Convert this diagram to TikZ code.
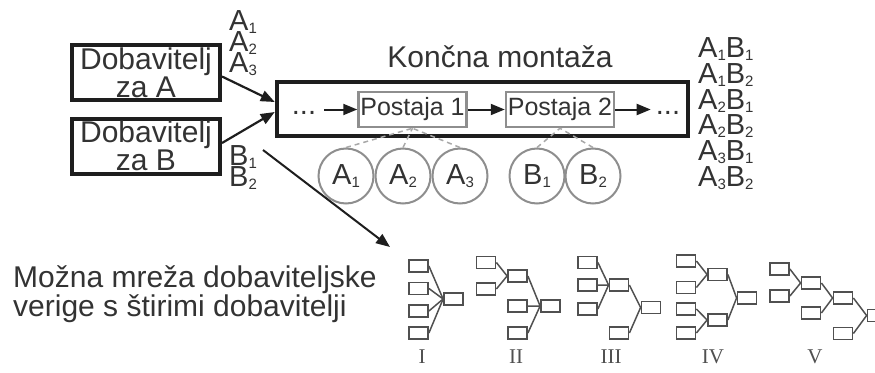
\documentclass[tikz,border=0pt]{standalone}
\usepackage{fontspec}
\setmainfont{Liberation Sans}
\newfontfamily\romfont{Liberation Serif}
\usetikzlibrary{arrows.meta}
\definecolor{ink}{HTML}{333333}
\definecolor{frame}{HTML}{1E1E1E}
\definecolor{pale}{HTML}{8E8E8E}
\definecolor{linkgray}{HTML}{A8A8A8}
\definecolor{treeg}{HTML}{505050}
\newcommand{\ix}[2]{#1\raisebox{-3pt}{\fontsize{15}{15}\selectfont#2}}
\begin{document}
\begin{tikzpicture}[x=1pt,y=-1pt,
    >={Triangle[length=14pt,width=11pt]},
    every node/.style={text=ink,inner sep=0pt},
    supplier/.style={draw=frame,line width=4pt,minimum width=148pt,minimum height=55pt,
      align=center,font=\fontsize{30}{23}\selectfont},
    tag/.style={font=\fontsize{29}{29}\selectfont},
    station/.style={draw=pale,line width=2.5pt,minimum width=108pt,minimum height=35pt,
      font=\fontsize{25}{25}\selectfont},
    part/.style={circle,draw=pale,line width=2pt,minimum size=55pt,font=\fontsize{29}{29}\selectfont},
    link/.style={linkgray,line width=1.5pt,dash pattern=on 5pt off 4pt},
    tbox/.style={draw=treeg,line width=1.8pt,minimum width=19pt,minimum height=12pt},
    tline/.style={treeg,line width=1.5pt},
    roman/.style={font=\romfont\fontsize{21}{21}\selectfont,text=treeg}]
  \useasboundingbox (0,0) rectangle (875,372);

  \node[supplier] (supA) at (146,72.5) {Dobavitelj\\za A};
  \node[supplier] (supB) at (146,146) {Dobavitelj\\za B};
  \node[tag,anchor=west] (a1) at (229,22) {\ix{A}{1}};
  \node[tag,anchor=west] (a2) at (229,43) {\ix{A}{2}};
  \node[tag,anchor=west] (a3) at (229,64) {\ix{A}{3}};
  \node[tag,anchor=west] (b1) at (229,157) {\ix{B}{1}};
  \node[tag,anchor=west] (b2) at (229,178) {\ix{B}{2}};

  \node[draw=frame,line width=4.5pt,minimum width=411pt,minimum height=54pt] (montaza) at (482.5,109) {};
  \node[font=\fontsize{30}{30}\selectfont] (naslov) at (500,57) {Končna montaža};
  \node[station] (post1) at (412.5,109.5) {Postaja 1};
  \node[station] (post2) at (560,109.5) {Postaja 2};
  \node[tag,anchor=base] (dl) at (304,114) {...};
  \node[tag,anchor=base] (dr) at (668,114) {...};
  \draw[->,line width=2pt,frame,shorten <=8pt] (dl.east |- post1.west) -- (post1.west);
  \draw[->,line width=2pt,frame] (post1.east) -- (post2.west);
  \draw[->,line width=2pt,frame,shorten >=5pt] (post2.east) -- (dr.west |- post2.east);

  \foreach \p/\s/\x in {A/1/346,A/2/403,A/3/460,B/1/537,B/2/593}
    \node[part] (c\p\s) at (\x,176) {\ix{\p}{\s}};
  \foreach \c in {cA1,cA2,cA3}
    \draw[link] (\c.north) -- (post1.south);
  \foreach \c in {cB1,cB2}
    \draw[link] (\c.north) -- (post2.south);

  \draw[->,line width=2.2pt,frame] ([yshift=-4pt]supA.east) -- ([yshift=7pt]montaza.west);
  \draw[->,line width=2.2pt,frame] ([yshift=3pt]supB.east) -- ([yshift=-3pt]montaza.west);

  \foreach \a/\b [count=\i from 0] in {1/1,1/2,2/1,2/2,3/1,3/2}
    \node[tag,anchor=west] (ab\a\b) at (698,49+25.8*\i) {\ix{A}{\a}\ix{B}{\b}};

  \coordinate (netfrom) at (263,150);
  \coordinate (netto) at (390,247);
  \draw[->,line width=2pt,frame] (netfrom) -- (netto);

  \node[anchor=north west,align=left,font=\fontsize{30}{29}\selectfont] (opis) at (13,265)
    {Možna mreža dobaviteljske\\verige s štirimi dobavitelji};

  % I
  \foreach \y [count=\i] in {266,288.5,311,333}
    \node[tbox] (i\i) at (418.5,\y) {};
  \node[tbox] (ir) at (453.5,299) {};
  \foreach \i in {1,...,4}
    \draw[tline] (i\i.east) -- (ir.west);
  \node[roman] (nI) at (422,357) {I};

  % II
  \node[tbox] (ii1) at (486,262.5) {};
  \node[tbox] (ii2) at (486,289) {};
  \node[tbox] (iim) at (517.5,276) {};
  \node[tbox] (ii3) at (517.5,306) {};
  \node[tbox] (ii4) at (517.5,333) {};
  \node[tbox] (iir) at (550.5,306) {};
  \draw[tline] (ii1.east) -- (iim.west) (ii2.east) -- (iim.west) (iim.east) -- (iir.west)
    (ii3.east) -- (iir.west) (ii4.east) -- (iir.west);
  \node[roman] (nII) at (516,357) {II};

  % III
  \node[tbox] (iii1) at (587.5,262.5) {};
  \node[tbox] (iii2) at (587.5,285) {};
  \node[tbox] (iii3) at (587.5,309) {};
  \node[tbox] (iiim) at (619,285) {};
  \node[tbox] (iii4) at (619,333) {};
  \node[tbox] (iiir) at (651,307.5) {};
  \draw[tline] (iii1.east) -- (iiim.west) (iii2.east) -- (iiim.west) (iii3.east) -- (iiim.west)
    (iiim.east) -- (iiir.west) (iii4.east) -- (iiir.west);
  \node[roman] (nIII) at (611,357) {III};

  % IV
  \foreach \y [count=\i] in {261,287.5,309,333}
    \node[tbox] (iv\i) at (686,\y) {};
  \node[tbox] (ivm1) at (717.5,274.5) {};
  \node[tbox] (ivm2) at (717.5,320) {};
  \node[tbox] (ivr) at (747,298) {};
  \draw[tline] (iv1.east) -- (ivm1.west) (iv2.east) -- (ivm1.west) (iv3.east) -- (ivm2.west)
    (iv4.east) -- (ivm2.west) (ivm1.east) -- (ivr.west) (ivm2.east) -- (ivr.west);
  \node[roman] (nIV) at (713,357) {IV};

  % V
  \node[tbox] (v1) at (779.5,269) {};
  \node[tbox] (v2) at (779.5,296) {};
  \node[tbox] (vm1) at (811,283) {};
  \node[tbox] (v3) at (811,313) {};
  \node[tbox] (vm2) at (843,298) {};
  \node[tbox] (v4) at (843,333.5) {};
  \node[tbox] (vr) at (877,315.5) {};
  \draw[tline] (v1.east) -- (vm1.west) (v2.east) -- (vm1.west) (vm1.east) -- (vm2.west)
    (v3.east) -- (vm2.west) (vm2.east) -- (vr.west) (v4.east) -- (vr.west);
  \node[roman] (nV) at (815,357) {V};
\end{tikzpicture}
\end{document}
